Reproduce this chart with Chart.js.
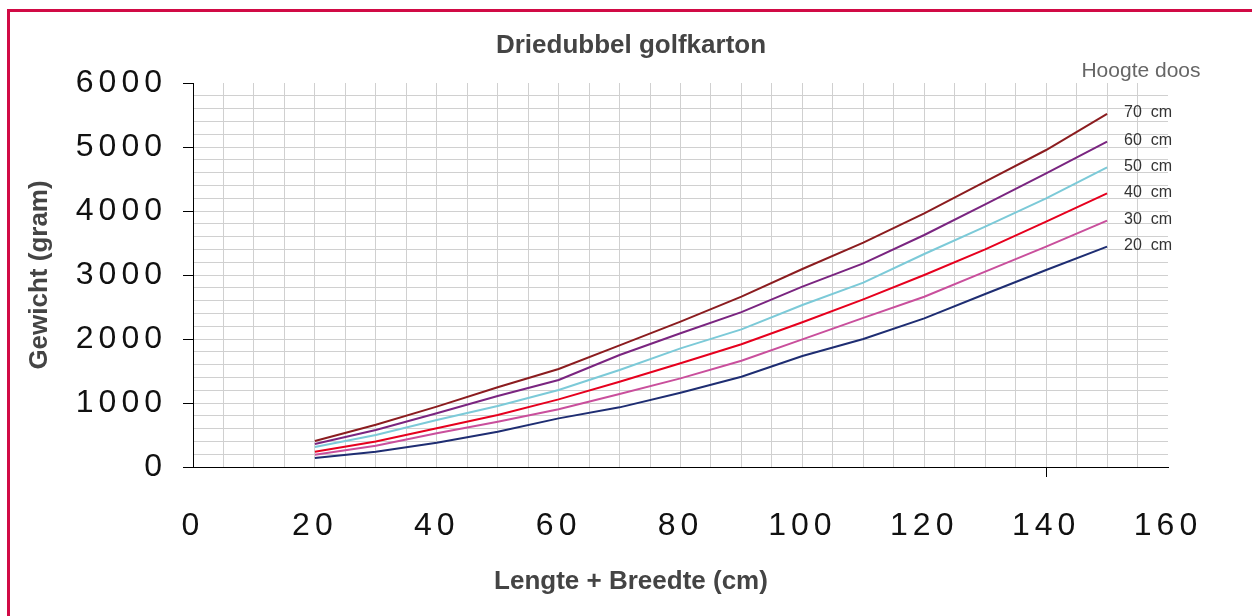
<!DOCTYPE html>
<html>
<head>
<meta charset="utf-8">
<script src="https://cdn.jsdelivr.net/npm/chart.js@4/dist/chart.umd.min.js"></script>
<style>
  html, body { margin: 0; padding: 0; background: #fff; }
  canvas { display: block; }
</style>
</head>
<body>
<canvas id="gewicht-chart" width="1252" height="616"></canvas>
<script>
// lengte + breedte (cm)
var lengths = [20, 30, 40, 50, 60, 70, 80, 90, 100, 110, 120, 130, 140, 150];

// gewicht (gram) per hoogte doos
var h70 = [406, 661, 943, 1245, 1531, 1901, 2271, 2661, 3094, 3505, 3964, 4458, 4953, 5516];
var h60 = [359, 578, 839, 1109, 1359, 1750, 2089, 2420, 2818, 3182, 3625, 4104, 4589, 5083];
var h50 = [312, 500, 734, 953, 1203, 1516, 1854, 2151, 2531, 2880, 3328, 3755, 4198, 4682];
var h40 = [240, 400, 604, 812, 1057, 1333, 1620, 1917, 2261, 2620, 3000, 3401, 3833, 4276];
var h30 = [193, 333, 526, 708, 901, 1141, 1385, 1661, 1995, 2330, 2661, 3052, 3443, 3849];
var h20 = [141, 240, 380, 552, 760, 932, 1161, 1411, 1734, 2000, 2323, 2703, 3078, 3443];

var seriesLabels = ["70  cm", "60  cm", "50  cm", "40  cm", "30  cm", "20  cm"];
var seriesColors = ["#8b1c1f", "#7a2580", "#7ccad8", "#e6001e", "#c94f9c", "#1e2d72"];
var seriesValues = [h70, h60, h50, h40, h30, h20];

function toPoints(values) {
    var pts = [];
    for (var i = 0; i < lengths.length; i++) {
        pts.push({ x: lengths[i], y: values[i] });
    }
    return pts;
}

var datasets = seriesValues.map(function (vals, i) {
    return {
        label: seriesLabels[i],
        data: toPoints(vals),
        borderColor: seriesColors[i],
        backgroundColor: seriesColors[i],
        borderWidth: 2,
        pointRadius: 0,
        tension: 0,
        fill: false
    };
});

var GRID = "#d0d0d0";
var CLEAR = "rgba(0,0,0,0)";

var decorPlugin = {
    id: "decor",
    beforeDraw: function (chart) {
        var ctx = chart.ctx;
        ctx.save();
        ctx.strokeStyle = "#d10a45";
        ctx.lineWidth = 3;
        ctx.strokeRect(8.5, 10.5, 1400, 800);
        ctx.restore();
        // wide digits on the axes
        ctx.letterSpacing = "5px";
    },
    afterDatasetsDraw: function (chart) {
        chart.ctx.letterSpacing = "0px";
    },
    afterDraw: function (chart) {
        var ctx = chart.ctx;
        var ys = chart.scales.y;
        ctx.save();
        ctx.letterSpacing = "0px";
        ctx.fillStyle = "#444";
        ctx.textAlign = "center";
        ctx.textBaseline = "middle";
        ctx.font = "bold 26px 'Liberation Sans', Arial, sans-serif";
        ctx.fillText("Driedubbel golfkarton", 631, 46);
        ctx.fillText("Lengte + Breedte (cm)", 631, 582);

        ctx.save();
        ctx.translate(40, 275);
        ctx.rotate(-Math.PI / 2);
        ctx.fillText("Gewicht (gram)", 0, 0);
        ctx.restore();

        ctx.fillStyle = "#666";
        ctx.font = "21px 'Liberation Sans', Arial, sans-serif";
        ctx.fillText("Hoogte doos", 1141, 71);

        ctx.fillStyle = "#333";
        ctx.textAlign = "left";
        ctx.font = "16px 'Liberation Sans', Arial, sans-serif";
        for (var i = 0; i < seriesValues.length; i++) {
            var v = seriesValues[i];
            var py = ys.getPixelForValue(v[v.length - 1]);
            ctx.fillText(seriesLabels[i], 1124, py - 1);
        }
        ctx.restore();
    }
};

new Chart(document.getElementById("gewicht-chart"), {
    type: "line",
    data: { datasets: datasets },
    options: {
        responsive: false,
        animation: false,
        layout: { padding: { left: 10, right: 84, top: 83, bottom: 0 } },
        plugins: {
            legend: { display: false },
            title: { display: false },
            tooltip: { enabled: false }
        },
        scales: {
            x: {
                type: "linear",
                min: 0,
                max: 160,
                afterFit: function (scale) { scale.height = 149; },
                ticks: {
                    stepSize: 5,
                    autoSkip: false,
                    maxTicksLimit: 100,
                    maxRotation: 0,
                    padding: 30,
                    color: "#111",
                    font: { family: "'Liberation Sans', Arial, sans-serif", size: 32 },
                    callback: function (v) { return v % 20 === 0 ? v : ""; }
                },
                grid: {
                    tickLength: 10,
                    lineWidth: 1,
                    color: function (c) {
                        var v = c.tick ? c.tick.value : 0;
                        return (v === 0 || v === 160) ? CLEAR : GRID;
                    },
                    tickColor: function (c) {
                        return (c.tick && c.tick.value === 140) ? "#000" : CLEAR;
                    }
                },
                border: { display: true, color: "#000", width: 1 }
            },
            y: {
                min: 0,
                max: 6000,
                afterFit: function (scale) { scale.width = 183; },
                ticks: {
                    stepSize: 200,
                    autoSkip: false,
                    maxTicksLimit: 100,
                    padding: 16,
                    color: "#111",
                    font: { family: "'Liberation Sans', Arial, sans-serif", size: 32 },
                    callback: function (v) { return v % 1000 === 0 ? v : ""; }
                },
                grid: {
                    tickLength: 10,
                    lineWidth: 1,
                    color: function (c) {
                        var v = c.tick ? c.tick.value : 0;
                        return (v === 0 || v === 6000) ? CLEAR : GRID;
                    },
                    tickColor: function (c) {
                        return (c.tick && c.tick.value % 1000 === 0) ? "#000" : CLEAR;
                    }
                },
                border: { display: true, color: "#000", width: 1 }
            }
        }
    },
    plugins: [decorPlugin]
});
</script>
</body>
</html>
